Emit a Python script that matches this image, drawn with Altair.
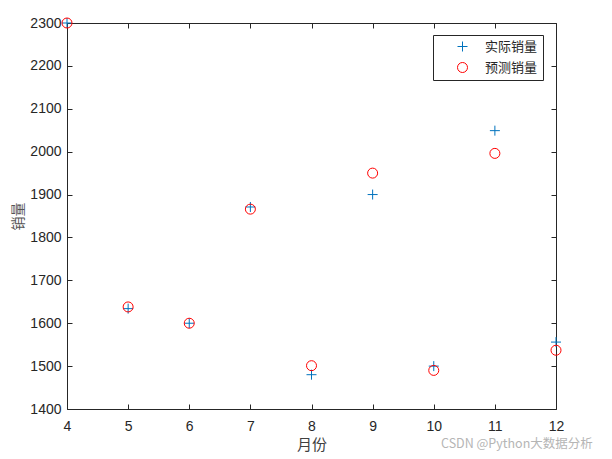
import altair as alt
import pandas as pd

# ---- data ----
months = [4, 5, 6, 7, 8, 9, 10, 11, 12]
actual = [2300, 1634, 1600, 1871, 1480, 1900, 1500, 2049, 1556]
predicted = [2300, 1638, 1600, 1866, 1501, 1950, 1490, 1996, 1537]
series_names = ["实际销量", "预测销量"]
series_colors = ["#0072BD", "#FF0000"]
x_ticks = [4, 5, 6, 7, 8, 9, 10, 11, 12]
y_ticks = [1400, 1500, 1600, 1700, 1800, 1900, 2000, 2100, 2200, 2300]
watermark = ["CSDN @Python大数据分析"]

PLUS = "M-1,0H1M0,-1V1"
LATIN = "Liberation Sans"
CJK = "Noto Sans CJK SC"
AX = "#262626"

rows = []
for m, a, p in zip(months, actual, predicted):
    rows.append({"月份": m, "销量": a, "series": series_names[0]})
    rows.append({"月份": m, "销量": p, "series": series_names[1]})
df = pd.DataFrame(rows)

xscale = alt.Scale(domain=[4, 12], nice=False, zero=False)
yscale = alt.Scale(domain=[1400, 2300], nice=False, zero=False)

x_bottom = alt.Axis(orient="bottom", values=x_ticks, format="d", offset=-5, tickSize=5,
                    domain=False, grid=False, labelFont=LATIN, labelFontSize=14,
                    labelColor=AX, tickColor=AX, labelPadding=10, title="月份",
                    titleFont=CJK, titleFontSize=15, titleFontWeight="normal",
                    titleColor="#404040", titlePadding=4, labelFlush=False)
y_left = alt.Axis(orient="left", values=y_ticks, format="d", offset=-5, tickSize=5,
                  domain=False, grid=False, labelFont=LATIN, labelFontSize=14,
                  labelColor=AX, tickColor=AX, labelPadding=6, title="销量",
                  titleFont=CJK, titleFontSize=14, titleFontWeight="normal",
                  titleColor="#555555", titlePadding=4, labelFlush=False)
x_top = alt.Axis(orient="top", values=x_ticks, offset=-5, tickSize=5, domain=False,
                 grid=False, labels=False, tickColor=AX, title="")
y_right = alt.Axis(orient="right", values=y_ticks, offset=-5, tickSize=5, domain=False,
                   grid=False, labels=False, tickColor=AX, title="")

legend = alt.Legend(title=None, orient="none", legendX=366, legendY=12,
                    strokeColor=AX, fillColor="white", padding=5,
                    cornerRadius=0, symbolOffset=18, labelOffset=16,
                    rowPadding=6, symbolSize=100, symbolStrokeWidth=1,
                    labelFont=CJK, labelFontSize=13, labelColor=AX)

points = alt.Chart(df).mark_point(filled=False, size=100, strokeWidth=1, opacity=1).encode(
    x=alt.X("月份:Q", scale=xscale, axis=x_bottom),
    y=alt.Y("销量:Q", scale=yscale, axis=y_left),
    color=alt.Color("series:N",
                    scale=alt.Scale(domain=series_names, range=series_colors),
                    legend=legend),
    shape=alt.Shape("series:N",
                    scale=alt.Scale(domain=series_names, range=[PLUS, "circle"]),
                    legend=legend),
)

frame = alt.Chart(df).mark_point(opacity=0).encode(
    x=alt.X("月份:Q", scale=xscale, axis=x_top),
    y=alt.Y("销量:Q", scale=yscale, axis=y_right),
)

wm = alt.Chart(pd.DataFrame({"t": watermark})).mark_text(
    align="left", baseline="middle", font=CJK, fontSize=12.5, color="#b5b5b5"
).encode(text="t:N", x=alt.value(374), y=alt.value(421))

chart = alt.layer(points, frame, wm).resolve_axis(x="independent", y="independent").properties(
    width=489, height=386, autosize=alt.AutoSizeParams(type="none"),
    padding={"left": 59, "top": 15, "right": 48, "bottom": 48},
    background="white",
).configure_view(stroke=AX, strokeWidth=1)

chart.save("out.html", embed_options={"renderer": "svg", "actions": False})
